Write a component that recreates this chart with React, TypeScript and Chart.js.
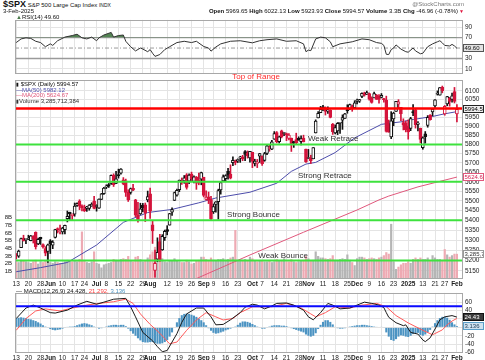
import React, { useEffect, useRef } from 'react';
import { Chart, registerables } from 'chart.js';

Chart.register(...registerables);

const FONT = '"Liberation Sans", Arial, Helvetica, sans-serif';

// ---------- categories (trading days) ----------
const MONTH_DAYS: [string, number[]][] = [
  ['2024-05', [13, 14, 15, 16, 17, 20, 21, 22, 23, 24, 28, 29, 30, 31]],
  ['2024-06', [3, 4, 5, 6, 7, 10, 11, 12, 13, 14, 17, 18, 20, 21, 24, 25, 26, 27, 28]],
  ['2024-07', [1, 2, 3, 5, 8, 9, 10, 11, 12, 15, 16, 17, 18, 19, 22, 23, 24, 25, 26, 29, 30, 31]],
  ['2024-08', [1, 2, 5, 6, 7, 8, 9, 12, 13, 14, 15, 16, 19, 20, 21, 22, 23, 26, 27, 28, 29, 30]],
  ['2024-09', [3, 4, 5, 6, 9, 10, 11, 12, 13, 16, 17, 18, 19, 20, 23, 24, 25, 26, 27, 30]],
  ['2024-10', [1, 2, 3, 4, 7, 8, 9, 10, 11, 14, 15, 16, 17, 18, 21, 22, 23, 24, 25, 28, 29, 30, 31]],
  ['2024-11', [1, 4, 5, 6, 7, 8, 11, 12, 13, 14, 15, 18, 19, 20, 21, 22, 25, 26, 27, 29]],
  ['2024-12', [2, 3, 4, 5, 6, 9, 10, 11, 12, 13, 16, 17, 18, 19, 20, 23, 24, 26, 27, 30, 31]],
  ['2025-01', [2, 3, 6, 7, 8, 10, 13, 14, 15, 16, 17, 21, 22, 23, 24, 27, 28, 29, 30, 31]],
  ['2025-02', [3]],
];
const DATES: string[] = MONTH_DAYS.flatMap(([m, days]) => days.map((d) => `${m}-${String(d).padStart(2, '0')}`));

// ---------- x tick labels ----------
const X_TICKS: [string, string][] = [
  ['2024-05-13', '13'], ['2024-05-20', '20'], ['2024-05-28', '28'], ['2024-06-03', 'Jun'],
  ['2024-06-10', '10'], ['2024-06-17', '17'], ['2024-06-24', '24'], ['2024-07-01', 'Jul'],
  ['2024-07-08', '8'], ['2024-07-15', '15'], ['2024-07-22', '22'], ['2024-07-29', '29'],
  ['2024-08-01', 'Aug'], ['2024-08-12', '12'], ['2024-08-19', '19'], ['2024-08-26', '26'],
  ['2024-09-03', 'Sep'], ['2024-09-09', '9'], ['2024-09-16', '16'], ['2024-09-23', '23'],
  ['2024-10-01', 'Oct'], ['2024-10-07', '7'], ['2024-10-14', '14'], ['2024-10-21', '21'],
  ['2024-10-28', '28'], ['2024-11-01', 'Nov'], ['2024-11-11', '11'], ['2024-11-18', '18'],
  ['2024-11-25', '25'], ['2024-12-02', 'Dec'], ['2024-12-09', '9'], ['2024-12-16', '16'],
  ['2024-12-23', '23'], ['2025-01-02', '2025'], ['2025-01-13', '13'], ['2025-01-21', '21'],
  ['2025-01-27', '27'], ['2025-02-03', 'Feb'],
];
const MONTH_LABELS = ['Jun', 'Jul', 'Aug', 'Sep', 'Oct', 'Nov', 'Dec', '2025', 'Feb'];

// ---------- price (OHLC) ----------
const PREV_CLOSE = 5222.68;
const OPEN = [
  5233, 5221, 5263, 5311, 5303, 5305, 5298, 5319, 5340, 5282, 5315, 5278, 5259, 5244,
  5297, 5275, 5314, 5357, 5343, 5341, 5353, 5409, 5441, 5424, 5431, 5476, 5499, 5474, 5460, 5461, 5461, 5473, 5499,
  5471, 5462, 5507, 5537, 5572, 5585, 5591, 5635, 5591, 5638, 5645, 5610, 5605, 5544, 5544, 5565, 5505, 5428, 5433, 5477, 5479, 5505,
  5537, 5377, 5151, 5206, 5293, 5252, 5313, 5353, 5376, 5442, 5502, 5530, 5558, 5603, 5604, 5637, 5603, 5640, 5602, 5624, 5607, 5613,
  5623, 5507, 5521, 5507, 5443, 5482, 5496, 5557, 5604, 5616, 5655, 5641, 5702, 5709, 5711, 5727, 5733, 5762, 5755, 5727,
  5757, 5698, 5698, 5737, 5737, 5714, 5751, 5778, 5775, 5829, 5866, 5816, 5875, 5860, 5857, 5833, 5835, 5810, 5827, 5833, 5816, 5835, 5775,
  5724, 5727, 5722, 5863, 5947, 5976, 6009, 6003, 5985, 5989, 5913, 5863, 5874, 5917, 5934, 5944, 5993, 6000, 6014, 6004,
  6040, 6042, 6069, 6089, 6081, 6084, 6058, 6060, 6074, 6069, 6063, 6052, 6047, 5912, 5842, 5941, 5984, 6025, 6006, 5921, 5920,
  5903, 5888, 5983, 5993, 5911, 5890, 5782, 5859, 5905, 5961, 5980, 6015, 6081, 6076, 6121, 5969, 6026, 6058, 6051, 6096,
  5969.65,
];
const HIGH = [
  5234, 5251, 5311, 5325, 5305, 5325, 5324, 5323, 5342, 5311, 5315, 5282, 5268, 5281,
  5303, 5298, 5355, 5362, 5376, 5365, 5376, 5448, 5442, 5433, 5489, 5490, 5506, 5479, 5478, 5472, 5481, 5490, 5524,
  5480, 5510, 5539, 5571, 5584, 5591, 5636, 5642, 5655, 5667, 5670, 5622, 5614, 5558, 5567, 5586, 5508, 5492, 5488, 5487, 5489, 5551,
  5567, 5396, 5251, 5312, 5330, 5328, 5351, 5373, 5436, 5464, 5546, 5562, 5609, 5620, 5633, 5643, 5642, 5651, 5631, 5628, 5646, 5651,
  5624, 5552, 5546, 5523, 5484, 5497, 5561, 5600, 5636, 5637, 5671, 5690, 5733, 5716, 5722, 5736, 5741, 5767, 5765, 5763,
  5758, 5720, 5719, 5752, 5739, 5757, 5796, 5796, 5823, 5871, 5871, 5846, 5879, 5866, 5863, 5860, 5835, 5818, 5862, 5842, 5847, 5851, 5775,
  5773, 5742, 5783, 5936, 5983, 6012, 6018, 6009, 6009, 5993, 5916, 5908, 5921, 5920, 5964, 5973, 6021, 6025, 6020, 6044,
  6053, 6052, 6089, 6093, 6099, 6088, 6066, 6093, 6080, 6079, 6085, 6058, 6070, 5935, 5982, 5979, 6040, 6050, 6007, 5942, 5929,
  5936, 5950, 6022, 6001, 5927, 5890, 5842, 5871, 5960, 5965, 6000, 6051, 6100, 6119, 6128, 6017, 6069, 6063, 6087, 6120,
  6022.13,
];
const LOW = [
  5207, 5215, 5263, 5296, 5283, 5303, 5297, 5286, 5256, 5278, 5279, 5260, 5223, 5191,
  5234, 5258, 5311, 5336, 5331, 5331, 5331, 5392, 5404, 5404, 5421, 5471, 5455, 5448, 5445, 5446, 5452, 5472, 5458,
  5447, 5461, 5507, 5534, 5564, 5570, 5586, 5575, 5590, 5619, 5640, 5584, 5523, 5497, 5535, 5553, 5419, 5391, 5430, 5444, 5394, 5495,
  5410, 5284, 5119, 5194, 5195, 5250, 5299, 5327, 5376, 5425, 5502, 5525, 5548, 5586, 5592, 5561, 5590, 5602, 5594, 5560, 5584, 5584,
  5521, 5504, 5486, 5403, 5435, 5442, 5406, 5535, 5601, 5604, 5614, 5615, 5686, 5690, 5702, 5703, 5712, 5712, 5726, 5704,
  5675, 5684, 5675, 5703, 5687, 5709, 5745, 5763, 5772, 5828, 5809, 5808, 5836, 5848, 5821, 5825, 5762, 5784, 5800, 5823, 5798, 5814, 5703,
  5723, 5697, 5722, 5863, 5947, 5976, 5987, 5963, 5972, 5947, 5855, 5858, 5854, 5861, 5883, 5944, 5973, 5993, 5984, 6004,
  6026, 6034, 6061, 6070, 6079, 6047, 6030, 6060, 6051, 6030, 6060, 6036, 5868, 5867, 5832, 5903, 5983, 6004, 5932, 5880, 5869,
  5829, 5876, 5960, 5890, 5874, 5809, 5774, 5807, 5895, 5934, 5958, 6006, 6076, 6075, 6089, 5962, 6015, 6013, 6035, 6031,
  5923.93,
];
const CLOSE = [
  5221.4, 5246.7, 5308.2, 5297.1, 5303.3, 5308.1, 5321.4, 5307.0, 5267.8, 5304.7, 5306.0, 5267.0, 5235.5, 5277.5,
  5283.4, 5291.3, 5354.0, 5353.0, 5347.0, 5360.8, 5375.3, 5421.0, 5433.7, 5431.6, 5473.2, 5487.0, 5473.2, 5464.6, 5447.9, 5469.3, 5477.9, 5482.9, 5460.5,
  5475.1, 5509.0, 5537.0, 5567.2, 5572.9, 5577.0, 5633.9, 5584.5, 5615.4, 5631.2, 5667.2, 5588.3, 5544.6, 5505.0, 5564.4, 5555.7, 5427.1, 5399.2, 5459.1, 5463.5, 5436.4, 5522.3,
  5446.7, 5346.6, 5186.3, 5240.0, 5199.5, 5319.3, 5344.2, 5344.4, 5434.4, 5455.2, 5543.2, 5554.3, 5608.3, 5597.1, 5620.9, 5570.6, 5634.6, 5616.8, 5625.8, 5592.2, 5592.0, 5648.4,
  5528.9, 5520.1, 5503.4, 5408.4, 5471.1, 5495.5, 5554.1, 5595.8, 5626.0, 5633.1, 5634.6, 5618.3, 5713.6, 5702.6, 5718.6, 5732.9, 5722.3, 5745.4, 5738.2, 5762.5,
  5708.8, 5709.5, 5699.9, 5751.1, 5695.9, 5751.1, 5792.0, 5780.1, 5815.0, 5859.9, 5815.3, 5842.5, 5841.5, 5864.7, 5854.0, 5851.2, 5797.4, 5809.9, 5808.1, 5823.5, 5832.9, 5813.7, 5705.5,
  5728.8, 5712.7, 5782.8, 5929.0, 5973.1, 5995.5, 6001.4, 5984.0, 5985.4, 5949.2, 5870.6, 5893.6, 5917.0, 5917.1, 5948.7, 5969.3, 5987.4, 6021.6, 5998.7, 6032.4,
  6047.2, 6049.9, 6086.5, 6075.1, 6090.3, 6052.9, 6034.9, 6084.2, 6051.3, 6051.1, 6074.1, 6050.6, 5872.2, 5867.1, 5930.9, 5974.1, 6040.0, 6037.6, 5970.8, 5906.9, 5881.6,
  5868.6, 5942.5, 5975.4, 5909.0, 5918.3, 5827.0, 5836.2, 5842.9, 5949.9, 5937.3, 5996.7, 6049.2, 6086.4, 6118.7, 6101.2, 6012.3, 6067.7, 6039.3, 6071.2, 6040.5,
  5994.57,
];

// ---------- volume (billions) ----------
const VOLUME_B = [
  2.3, 2.2, 2.5, 2.4, 2.3, 2.2, 2.1, 2.3, 2.5, 2.0, 2.3, 2.2, 2.4, 3.4,
  2.2, 2.1, 2.3, 2.2, 2.1, 2.1, 2.3, 2.5, 2.4, 2.3, 2.4, 2.3, 2.6, 6.2, 2.4, 2.2, 2.1, 2.3, 3.6,
  2.1, 2.0, 1.5, 1.9, 2.0, 2.1, 2.2, 2.6, 2.5, 2.4, 2.6, 2.7, 2.6, 3.0, 2.4, 2.3, 2.9, 3.0, 2.6, 2.3, 2.4, 2.8,
  3.2, 3.6, 4.2, 3.1, 2.9, 2.7, 2.3, 2.2, 2.4, 2.4, 2.7, 2.4, 2.3, 2.2, 2.2, 2.5, 2.3, 2.0, 2.1, 2.4, 2.5, 2.9,
  2.9, 2.6, 2.5, 2.8, 2.5, 2.4, 2.6, 2.6, 2.7, 2.5, 2.6, 2.8, 2.9, 6.4, 2.5, 2.6, 2.5, 2.6, 2.4, 2.9,
  2.7, 2.4, 2.3, 2.4, 2.4, 2.3, 2.3, 2.4, 2.2, 2.3, 2.6, 2.4, 2.5, 2.7, 2.3, 2.3, 2.6, 2.3, 2.2, 2.3, 2.4, 2.5, 3.0,
  2.7, 2.4, 2.5, 3.6, 3.0, 2.8, 2.8, 2.7, 2.6, 2.7, 3.1, 2.5, 2.5, 2.6, 2.7, 2.6, 3.2, 2.5, 2.2, 1.8,
  2.7, 2.9, 2.9, 2.8, 2.6, 2.7, 2.8, 2.7, 2.6, 2.8, 2.9, 3.1, 3.5, 3.3, 7.2, 2.3, 1.3, 1.6, 1.9, 2.1, 2.1,
  2.3, 2.1, 2.6, 2.8, 2.6, 2.8, 2.6, 2.6, 2.8, 2.5, 3.1, 2.8, 2.6, 2.6, 2.5, 3.9, 3.2, 2.9, 3.1, 3.3,
  3.286,
];

// ---------- moving averages, read at sampled days [day index, value] ----------
const MA50_PTS: [number, number][] = [
  [0, 5145], [10, 5165], [21, 5190], [33, 5276], [44, 5390], [54, 5440], [64, 5456], [75, 5490],
  [82, 5515], [96, 5545], [107, 5592], [113, 5655], [119, 5694], [123, 5703], [131, 5756], [139, 5836],
  [150, 5911], [158, 5925], [163, 5938], [171, 5955], [176, 5970], [181, 5982.12],
];
const MA200_PTS: [number, number][] = [
  [70, 5095], [74, 5112], [96, 5227], [118, 5340], [140, 5453], [149, 5505], [153, 5525], [165, 5573], [181, 5624.67],
];

// ---------- RSI(14) ----------
const RSI_PTS: [number, number][] = [
  [0, 60.5], [2, 67.5], [4, 69.6], [6, 68.5], [8, 63], [10, 60.5], [12, 52.5], [14, 58], [15, 55], [17, 64],
  [20, 71], [23, 74], [25, 76.5], [27, 69.6], [29, 67.5], [31, 71], [33, 64], [34, 69.6], [36, 75], [39, 80],
  [40, 71], [42, 74], [44, 75], [45, 63], [47, 52.5], [49, 44.5], [51, 50], [52, 48], [54, 43], [55, 47],
  [56, 40], [57, 34], [59, 37.6], [61, 47], [63, 52.5], [66, 60.5], [69, 63], [72, 60.5], [74, 63], [77, 53],
  [79, 50], [80, 44], [82, 52], [84, 58], [88, 63], [92, 64], [97, 60], [100, 64], [103, 66], [107, 67.5],
  [111, 63], [115, 64], [118, 58], [119, 43], [120, 46], [121, 45], [123, 67.5], [125, 71], [127, 69.6], [129, 62],
  [130, 52.5], [133, 58], [138, 62], [142, 67.5], [145, 66], [148, 60.5], [150, 59], [151, 55], [152, 38], [153, 37.5],
  [154, 47], [155, 50], [156, 56], [158, 48], [160, 43], [161, 42], [163, 50], [164, 44.5], [166, 39], [167, 40],
  [169, 52.5], [171, 58], [173, 62], [174, 64], [175, 60], [176, 55], [178, 54], [179, 57], [180, 54], [181, 49.6],
];

// ---------- MACD(12,26,9) ----------
const MACD_PTS: [number, number][] = [
  [0, 21], [4, 46], [7, 53], [10, 46], [14, 35], [16, 34], [21, 41], [25, 53], [29, 62], [33, 55],
  [36, 60], [40, 67], [45, 69], [47, 49], [49, 25], [52, -12], [56, -32], [58, -46], [60, -58], [62, -55],
  [64, -35], [66, -15], [68, 12], [70, 32], [74, 46], [77, 46], [80, 25], [82, 6], [85, 7], [88, 18],
  [92, 35], [94, 48], [97, 55], [99, 53], [102, 44], [105, 51], [107, 57], [111, 58], [114, 53], [118, 41],
  [120, 25], [122, 18], [125, 35], [128, 57], [130, 53], [133, 44], [137, 46], [140, 53], [143, 60], [146, 57],
  [149, 53], [151, 47], [152, 35], [153, 24], [156, 11], [159, 4], [160, 6], [162, -12], [165, -16], [167, -30],
  [168, -34], [170, -25], [172, -4], [174, 18], [176, 25], [179, 28], [181, 24.428],
];
const SIGNAL_PTS: [number, number][] = [
  [0, -7], [4, 21], [8, 39], [12, 44], [18, 39], [23, 46], [29, 53], [34, 57], [40, 61], [45, 67],
  [48, 57], [51, 32], [55, 7], [59, -14], [63, -39], [66, -35], [70, -7], [74, 17.6], [78, 35], [82, 25],
  [85, 17.6], [89, 21], [92, 35], [97, 49], [105, 49], [111, 57], [117, 46], [121, 32], [123, 25], [127, 35],
  [131, 49], [137, 46], [142, 53], [148, 57], [152, 49], [156, 28], [161, 10.6], [167, -7], [171, -17.6], [175, -6],
  [177, 6], [179, 15], [181, 21.292],
];
const HIST = [
  22, 23, 24, 23, 22, 20, 19, 17, 15, 12,
  9, 5, 2, -1, -4, -6, -7, -6, -5, -3,
  -1, 1, 2, 2, 3, 5, 7, 9, 10, 9,
  7, 5, 2, -1, -3, -2, 0, 2, 4, 5,
  6, 6, 5, 6, 6, 3, -3, -9, -15, -20,
  -26, -31, -35, -36, -36, -35, -35, -37, -39, -39,
  -38, -35, -30, -22, -12, 0, 12, 22, 29, 32,
  33, 32, 30, 28, 25, 21, 17, 12, 5, -2,
  -8, -13, -15, -14, -12, -10, -7, -5, -3, -1,
  2, 6, 11, 14, 14, 13, 11, 8, 5, 2,
  -1, -3, -3, -1, 2, 4, 5, 5, 5, 4,
  4, 3, 1, -2, -4, -6, -8, -10, -12, -17,
  -20, -22, -20, -14, -4, 6, 13, 17, 17, 13,
  7, 1, -2, -3, -3, -2, 0, 2, 3, 4,
  5, 5, 6, 6, 5, 4, 3, 2, 1, 0,
  1, -1, -12, -22, -30, -32, -28, -22, -19, -20,
  -22, -23, -20, -16, -14, -13, -18, -20, -17, -12,
  -6, 2, 10, 17, 22, 25, 25, 23, 18, 12,
  7, 3.136,
];

// ---------- axis ticks ----------
const PRICE_TICKS = [5150, 5200, 5250, 5300, 5350, 5400, 5450, 5500, 5550, 5600, 5650, 5700, 5750, 5800, 5850, 5900, 5950, 6000, 6050, 6100];
const VOLUME_TICKS = [1, 2, 3, 4, 5, 6, 7, 8];
const RSI_TICKS = [10, 30, 70, 90];
const MACD_TICKS = [-60, -40, -20, 0, 20, 40, 60];

// ---------- horizontal annotation levels ----------
const LEVEL_VALUES = [6000, 5800, 5600, 5400, 5200];
const LEVEL_LABELS = ['Top of Range', 'Weak Retrace', 'Strong Retrace', 'Strong Bounce', 'Weak Bounce'];

// ---------- last values ----------
const LAST_RSI = 49.6;
const LAST_CLOSE = 5994.57;
const LAST_MA200 = 5624.67;
const LAST_VOLUME = '3,285,712,384';
const LAST_MACD = 24.428;
const LAST_HIST = 3.136;

// ================= presentation =================
const GRID = '#e4e4e4';
const LABELS = [...DATES, '', ' ']; // two blank slots of right margin
const TICK_TEXT: Record<number, string> = {};
X_TICKS.forEach(([d, t]) => { TICK_TEXT[DATES.indexOf(d)] = t; });
const TICK_IDX = Object.keys(TICK_TEXT).map(Number);
const pts = (arr: [number, number][]) => arr.map(([i, v]) => ({ x: DATES[i], y: v }));

const RED = '#d4143c';
const isUp = (i: number) => CLOSE[i] >= (i === 0 ? PREV_CLOSE : CLOSE[i - 1]);
const candleColor = DATES.map((_, i) => (isUp(i) ? '#111111' : RED));
const bodyFill = DATES.map((_, i) => (CLOSE[i] < OPEN[i] ? candleColor[i] : '#ffffff'));
const volColor = DATES.map((_, i) => (isUp(i) ? '#b5b5b5' : '#eeaab3'));

const LABEL_PLACE = [
  { at: 98.5, align: 'center', dy: -31.5, color: '#ff2a2a' },
  { at: 119.8, align: 'left', dy: -5.5, color: '#333' },
  { at: 115.7, align: 'left', dy: -5.5, color: '#333' },
  { at: 86.6, align: 'left', dy: -5.5, color: '#333' },
  { at: 99.4, align: 'left', dy: -4.5, color: '#333' },
];

function xScale(show: boolean, height: number) {
  return {
    type: 'category',
    offset: true,
    grid: { offset: false, color: GRID, lineWidth: 1, drawTicks: false },
    border: { display: false },
    afterBuildTicks: (s: any) => { s.ticks = TICK_IDX.map((i) => ({ value: i })); },
    afterFit: (s: any) => { s.height = height; },
    ticks: {
      display: show,
      autoSkip: false,
      maxRotation: 0,
      minRotation: 0,
      padding: 1,
      color: '#222',
      font: (c: any) => ({ family: FONT, size: 6.5, weight: MONTH_LABELS.includes(c.tick && c.tick.label) ? 'bold' : 'normal' }),
      callback: (v: number) => (TICK_TEXT[v] !== undefined ? TICK_TEXT[v] : null),
    },
  };
}

function yRight(type: string, min: number, max: number, ticks: number[], fmt: (v: number) => string) {
  return {
    type,
    position: 'right',
    min,
    max,
    afterBuildTicks: (s: any) => { s.ticks = ticks.map((v) => ({ value: v })); },
    afterFit: (s: any) => { s.width = 22; },
    grid: { color: GRID, drawTicks: false },
    border: { display: false },
    ticks: { autoSkip: false, padding: 2, color: '#222', font: { family: FONT, size: 6.5 }, callback: fmt },
  };
}

function frame(chart: any) {
  const { ctx, chartArea: a } = chart;
  ctx.save();
  ctx.strokeStyle = '#a8a8a8';
  ctx.lineWidth = 1;
  ctx.strokeRect(Math.round(a.left) + 0.5, Math.round(a.top) + 0.5, Math.round(a.right - a.left) - 1, Math.round(a.bottom - a.top) - 1);
  ctx.restore();
}

function valueBox(chart: any, y: number, text: string, fill: string, stroke: string, color: string) {
  const { ctx, chartArea: a } = chart;
  const x = Math.round(a.right);
  const w = 21;
  const h = 8;
  const top = Math.round(y - h / 2);
  ctx.save();
  ctx.fillStyle = fill;
  ctx.fillRect(x, top, w, h);
  ctx.strokeStyle = stroke;
  ctx.lineWidth = 1;
  ctx.strokeRect(x + 0.5, top + 0.5, w - 1, h - 1);
  ctx.beginPath();
  ctx.rect(x + 1, top, w - 2, h);
  ctx.clip();
  ctx.fillStyle = color;
  ctx.font = `6px ${FONT}`;
  ctx.textBaseline = 'middle';
  ctx.textAlign = 'left';
  ctx.fillText(text, x + 1.5, top + h / 2 + 0.5);
  ctx.restore();
}

function hLine(chart: any, value: number, scaleId: string, color: string, width: number, dash: number[] = []) {
  const { ctx, chartArea: a } = chart;
  const y = chart.scales[scaleId].getPixelForValue(value);
  ctx.save();
  ctx.strokeStyle = color;
  ctx.lineWidth = width;
  ctx.setLineDash(dash);
  ctx.beginPath();
  ctx.moveTo(a.left, y);
  ctx.lineTo(a.right, y);
  ctx.stroke();
  ctx.restore();
}

const baseOptions = {
  responsive: false,
  animation: false,
  events: [],
  plugins: { legend: { display: false }, tooltip: { enabled: false } },
};

export default function App() {
  const rsiRef = useRef<HTMLCanvasElement>(null);
  const mainRef = useRef<HTMLCanvasElement>(null);
  const macdRef = useRef<HTMLCanvasElement>(null);

  useEffect(() => {
    const charts: any[] = [];

    // ---------- RSI ----------
    charts.push(new Chart(rsiRef.current as any, {
      type: 'line',
      data: {
        labels: LABELS,
        datasets: [{
          label: 'RSI(14)',
          data: pts(RSI_PTS),
          borderColor: '#333333',
          borderWidth: 1,
          pointRadius: 0,
          tension: 0,
          fill: { target: { value: 70 }, above: '#548454', below: 'rgba(0,0,0,0)' },
        }],
      },
      options: {
        ...baseOptions,
        layout: { padding: { left: 15, top: 0, right: 0, bottom: 0 } },
        scales: {
          x: xScale(false, 0),
          y: yRight('linear', 0, 104, RSI_TICKS, (v: number) => String(v)),
        },
      } as any,
      plugins: [{
        id: 'rsiDecor',
        beforeDatasetsDraw(chart: any) {
          hLine(chart, 70, 'y', '#9a9a9a', 1.2);
          hLine(chart, 30, 'y', '#9a9a9a', 1.6);
          hLine(chart, 50, 'y', '#9a9a9a', 1, [4, 2, 1, 2]);
        },
        afterDraw(chart: any) {
          frame(chart);
          valueBox(chart, chart.scales.y.getPixelForValue(LAST_RSI), LAST_RSI.toFixed(2), '#e2e2e2', '#555', '#111');
        },
      }],
    } as any));

    // ---------- Price + volume ----------
    charts.push(new Chart(mainRef.current as any, {
      type: 'bar',
      data: {
        labels: LABELS,
        datasets: [
          {
            type: 'bar', label: 'Volume', yAxisID: 'yVol', data: VOLUME_B,
            backgroundColor: volColor, barPercentage: 0.9, categoryPercentage: 1, grouped: false, order: 10,
          },
          {
            type: 'line', label: 'MA(200)', yAxisID: 'y', data: pts(MA200_PTS),
            borderColor: '#e0587c', borderWidth: 1, pointRadius: 0, tension: 0, order: 6,
          },
          {
            type: 'line', label: 'MA(50)', yAxisID: 'y', data: pts(MA50_PTS),
            borderColor: '#4d4dab', borderWidth: 1, pointRadius: 0, tension: 0, order: 5,
          },
          {
            type: 'bar', label: 'range', yAxisID: 'y', data: DATES.map((_, i) => [LOW[i], HIGH[i]]),
            backgroundColor: candleColor, barThickness: 1, grouped: false, order: 2,
          },
          {
            type: 'bar', label: '$SPX', yAxisID: 'y', data: DATES.map((_, i) => [OPEN[i], CLOSE[i]]),
            backgroundColor: bodyFill, borderColor: candleColor, borderWidth: 1, borderSkipped: false,
            barThickness: 3, minBarLength: 1, grouped: false, order: 1,
          },
        ],
      },
      options: {
        ...baseOptions,
        layout: { padding: { left: 0, top: 20, right: 0, bottom: 0 } },
        scales: {
          x: xScale(true, 9),
          y: yRight('logarithmic', 5110, 6163, PRICE_TICKS, (v: number) => String(v)),
          yVol: {
            type: 'linear', position: 'left', min: 0, max: 26,
            afterBuildTicks: (s: any) => { s.ticks = VOLUME_TICKS.map((v) => ({ value: v })); },
            afterFit: (s: any) => { s.width = 15; },
            grid: { display: false, drawTicks: false },
            border: { display: false },
            ticks: { autoSkip: false, padding: 3, color: '#222', font: { family: FONT, size: 6 }, callback: (v: number) => `${v}B` },
          },
        },
      } as any,
      plugins: [{
        id: 'mainDecor',
        afterDatasetsDraw(chart: any) {
          LEVEL_VALUES.forEach((v, k) => hLine(chart, v, 'y', k === 0 ? '#ff0000' : '#3ee23e', k === 0 ? 2.5 : 2));
        },
        afterDraw(chart: any) {
          const { ctx, scales } = chart;
          ctx.save();
          ctx.font = `8px ${FONT}`;
          ctx.textBaseline = 'middle';
          LEVEL_VALUES.forEach((v, k) => {
            const p = LABEL_PLACE[k];
            ctx.fillStyle = p.color;
            ctx.textAlign = p.align;
            ctx.fillText(LEVEL_LABELS[k], scales.x.getPixelForValue(p.at), scales.y.getPixelForValue(v) + p.dy);
          });
          ctx.restore();
          frame(chart);
          valueBox(chart, scales.y.getPixelForValue(LAST_CLOSE), LAST_CLOSE.toFixed(2), '#f0f0f0', '#222', '#000');
          valueBox(chart, scales.y.getPixelForValue(LAST_MA200), LAST_MA200.toFixed(2), '#ffffff', '#e0587c', '#d42050');
          valueBox(chart, scales.yVol.getPixelForValue(VOLUME_B[VOLUME_B.length - 1]), LAST_VOLUME, '#ffffff', '#999', '#333');
        },
      }],
    } as any));

    // ---------- MACD ----------
    charts.push(new Chart(macdRef.current as any, {
      type: 'bar',
      data: {
        labels: LABELS,
        datasets: [
          {
            type: 'bar', label: 'Histogram', data: HIST, backgroundColor: '#4b93c2',
            barPercentage: 0.85, categoryPercentage: 1, order: 5,
          },
          {
            type: 'line', label: 'Signal', data: pts(SIGNAL_PTS), borderColor: '#ff5a5a',
            borderWidth: 1, pointRadius: 0, tension: 0, order: 2,
          },
          {
            type: 'line', label: 'MACD', data: pts(MACD_PTS), borderColor: '#1a1a1a',
            borderWidth: 1, pointRadius: 0, tension: 0, order: 1,
          },
        ],
      },
      options: {
        ...baseOptions,
        layout: { padding: { left: 15, top: 0, right: 0, bottom: 0 } },
        scales: {
          x: xScale(true, 7),
          y: yRight('linear', -61, 82, MACD_TICKS, (v: number) => String(v)),
        },
      } as any,
      plugins: [{
        id: 'macdDecor',
        afterDatasetsDraw(chart: any) {
          hLine(chart, 50, 'y', '#0a0aff', 2);
        },
        afterDraw(chart: any) {
          frame(chart);
          const y = chart.scales.y;
          valueBox(chart, y.getPixelForValue(LAST_HIST), LAST_HIST.toFixed(3), '#cfe2ef', '#5a9ec8', '#1d3a55');
          valueBox(chart, y.getPixelForValue(LAST_MACD), LAST_MACD.toFixed(2), '#3a3a3a', '#111', '#ffffff');
        },
      }],
    } as any));

    return () => charts.forEach((c) => c.destroy());
  }, []);

  const small = { position: 'absolute' as const, fontSize: 6, lineHeight: '7px', whiteSpace: 'nowrap' as const, color: '#111' };

  return (
    <div style={{ position: 'fixed', left: 0, top: 0, width: 485, height: 360, background: '#fff', overflow: 'hidden', fontFamily: FONT }}>
      <canvas ref={rsiRef} width={485} height={66} style={{ position: 'absolute', left: 0, top: 14, width: 485, height: 66 }} />
      <canvas ref={mainRef} width={485} height={228} style={{ position: 'absolute', left: 0, top: 60, width: 485, height: 228 }} />
      <canvas ref={macdRef} width={485} height={73} style={{ position: 'absolute', left: 0, top: 287, width: 485, height: 73 }} />

      {/* header */}
      <div style={{ ...small, left: 3, top: 0, fontSize: 6, lineHeight: '9px' }}>
        <b style={{ fontSize: 9 }}>$SPX</b> <span>S&amp;P 500 Large Cap Index</span> <span style={{ fontSize: 5 }}>INDX</span>
      </div>
      <div style={{ ...small, left: 3, top: 8 }}>3-Feb-2025</div>
      <div style={{ ...small, right: 21, top: 1, color: '#777' }}>@StockCharts.com</div>
      <div style={{ ...small, right: 27, top: 8 }}>
        <b>Open</b> 5969.65 <b>High</b> 6022.13 <b>Low</b> 5923.93 <b>Close</b> 5994.57 <b>Volume</b> 3.3B <b>Chg</b> -46.96 (-0.78%)
      </div>
      <div style={{ ...small, right: 21, top: 8, color: '#e0103a', fontSize: 5 }}>▼</div>

      {/* RSI legend */}
      <div style={{ ...small, left: 16, top: 14 }}>
        <span style={{ color: '#4a7a4a' }}>▲</span>RSI(14) 49.60
      </div>

      {/* main legend */}
      <div style={{ ...small, left: 16, top: 82, fontSize: 6, lineHeight: '5.6px' }}>
        <div><span style={{ fontSize: 5 }}>▮</span> $SPX (Daily) 5994.57</div>
        <div style={{ color: '#4d4dab' }}>—MA(50) 5982.12</div>
        <div style={{ color: '#e0587c' }}>—MA(200) 5624.67</div>
        <div style={{ color: '#333' }}><span style={{ fontSize: 5 }}>▮</span>Volume 3,285,712,384</div>
      </div>

      {/* MACD legend */}
      <div style={{ ...small, left: 16, top: 288 }}>
        — MACD(12,26,9) 24.428, <span style={{ color: '#ff4040' }}>21.292,</span> <span style={{ color: '#4b93c2' }}>3.136</span>
      </div>
    </div>
  );
}
